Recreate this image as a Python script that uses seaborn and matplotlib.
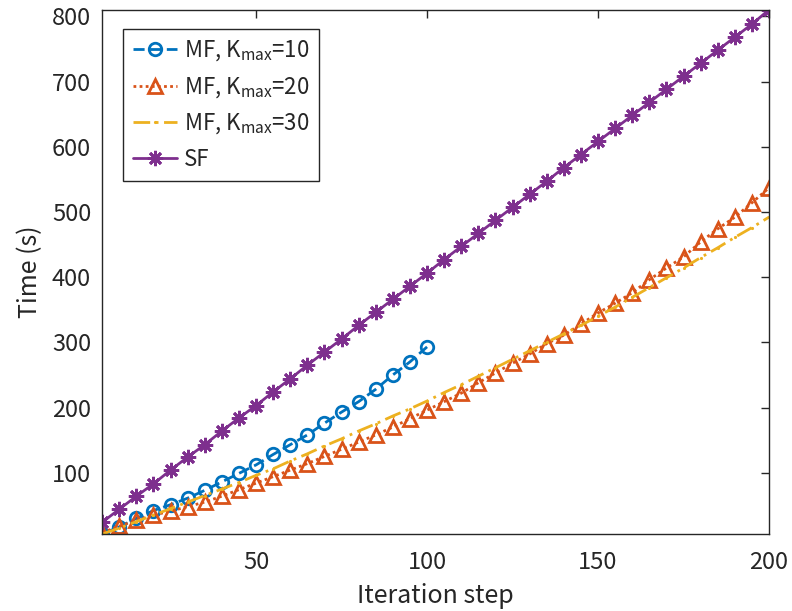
import numpy as np
import pandas as pd
import matplotlib
matplotlib.use("Agg")
import matplotlib.pyplot as plt
import seaborn as sns

# ---- data ----
steps = list(range(5, 205, 5))
steps_k10 = list(range(5, 105, 5))

mf_k10 = [6, 17, 30, 42, 51, 61, 73, 86, 99, 112, 128, 143, 158, 176, 193, 209, 228, 250, 270, 293]
mf_k20 = [8, 18, 27, 35, 41, 48, 55, 64, 74, 84, 94, 104, 114, 125, 136, 147, 158, 170, 183, 196,
          209, 222, 238, 253, 268, 282, 298, 311, 328, 345, 360, 376, 396, 414, 431, 454, 474, 492, 514, 537]
mf_k30 = [6, 15, 25, 35, 45, 55, 65, 75, 85, 96, 106, 118, 129, 141, 152, 164, 175, 187, 198, 210,
          223, 235, 248, 261, 274, 287, 300, 313, 326, 340, 354, 369, 384, 399, 414, 430, 445, 461, 476, 492]
sf = [24, 44, 64, 83, 104, 124, 143, 164, 184, 203, 224, 244, 265, 285, 305, 326, 346, 366, 386, 406,
      427, 447, 467, 487, 507, 527, 547, 568, 588, 608, 628, 648, 668, 688, 708, 728, 748, 768, 788, 810]

labels = ["MF, K$_{max}$=10", "MF, K$_{max}$=20", "MF, K$_{max}$=30", "SF"]
colors = ["#0072BD", "#D95319", "#EDB120", "#7E2F8E"]

sns.set_theme(style="white")
plt.rcParams['font.family'] = ['Noto Sans CJK JP', 'DejaVu Sans']
plt.rcParams['mathtext.default'] = 'regular'

fig = plt.figure(figsize=(7.92, 6.11), dpi=100)
ax = fig.add_axes([0.129, 0.126, 0.842, 0.858])

df10 = pd.DataFrame({"step": steps_k10, "time": mf_k10})
df20 = pd.DataFrame({"step": steps, "time": mf_k20})
df30 = pd.DataFrame({"step": steps, "time": mf_k30})
dfsf = pd.DataFrame({"step": steps, "time": sf})

lw = 2.0
sns.lineplot(data=df10, x="step", y="time", ax=ax, color=colors[0], lw=lw, label=labels[0],
             marker="o", markersize=9, markerfacecolor="none", markeredgecolor=colors[0],
             markeredgewidth=2, linestyle=(0, (4, 2)))
sns.lineplot(data=df20, x="step", y="time", ax=ax, color=colors[1], lw=lw, label=labels[1],
             marker="^", markersize=10, markerfacecolor="none", markeredgecolor=colors[1],
             markeredgewidth=2, linestyle=(0, (1, 1.2)))
sns.lineplot(data=df30, x="step", y="time", ax=ax, color=colors[2], lw=lw, label=labels[2],
             marker=".", markersize=3, markeredgecolor=colors[2],
             linestyle=(0, (6, 2, 1, 2)))
sns.lineplot(data=dfsf, x="step", y="time", ax=ax, color=colors[3], lw=lw, label=labels[3],
             marker=(8, 2, 0), markersize=11, markeredgecolor=colors[3],
             markeredgewidth=2, linestyle="-")

ax.set_xlim(min(steps), max(steps))
ax.set_ylim(min(min(mf_k10), min(mf_k20), min(mf_k30), min(sf)),
            max(max(mf_k10), max(mf_k20), max(mf_k30), max(sf)))
ax.set_xticks([50, 100, 150, 200])
ax.set_yticks([100, 200, 300, 400, 500, 600, 700, 800])

ax.set_xlabel("Iteration step", fontsize=18, color="#262626", labelpad=7)
ax.set_ylabel("Time (s)", fontsize=18, color="#262626", labelpad=6)
ax.tick_params(axis="both", which="both", direction="in", length=6, width=1,
               top=True, right=True, labelsize=17, colors="#262626")
ax.tick_params(axis="x", pad=12)
ax.tick_params(axis="y", pad=8)
for sp in ax.spines.values():
    sp.set_color("#262626")
    sp.set_linewidth(1.0)

leg = ax.legend(loc="upper left", bbox_to_anchor=(0.031, 0.964), fontsize=16,
                frameon=True, fancybox=False, framealpha=1, edgecolor="#262626",
                handlelength=2.0, handletextpad=0.3, labelspacing=0.52, borderpad=0.45,
                borderaxespad=0.0)
leg.get_frame().set_linewidth(1.0)

fig.savefig("out.png", dpi=100)
